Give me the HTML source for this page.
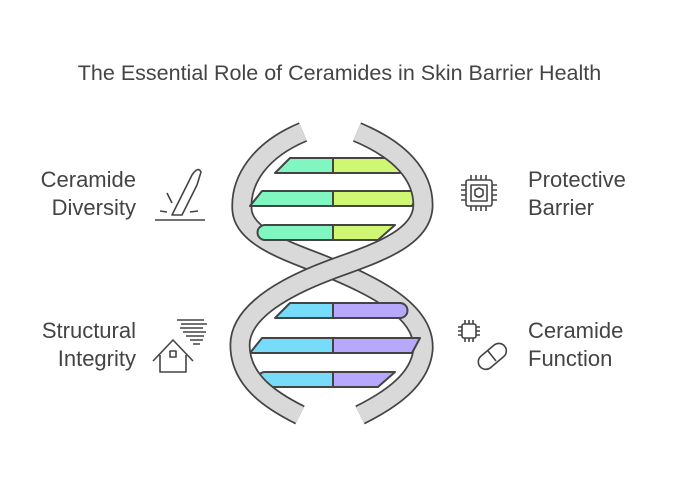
<html><head><style>
body{margin:0;width:679px;height:482px;background:#fff;font-family:"Liberation Sans",sans-serif;color:#444;position:relative;overflow:hidden}
.t{position:absolute;font-size:22px;line-height:28px}
</style></head><body>
<div class="t" style="left:0;width:679px;top:59px;text-align:center;font-size:21.5px">The Essential Role of Ceramides in Skin Barrier Health</div>
<div class="t" style="right:543px;top:166px;text-align:right">Ceramide<br>Diversity</div>
<div class="t" style="right:543px;top:317px;text-align:right">Structural<br>Integrity</div>
<div class="t" style="left:528px;top:166px">Protective<br>Barrier</div>
<div class="t" style="left:528px;top:317px">Ceramide<br>Function</div>
<svg width="679" height="482" style="position:absolute;left:0;top:0" fill="none" stroke-linejoin="round">
<g stroke="#444" stroke-width="1.6">
<path d="M155,220 H205"/><path d="M172,215 L192,175 Q198,166 201,172 L197,185 L182,215 Z"/><path d="M167,193 L172,203 M160,211 L167,212 M190,212 L198,211"/>
<path d="M153,361 L173,340 L193,361 M160,355 V372 H186 V355"/><rect x="170" y="351" width="6" height="6"/>
<path d="M177,320 H204 M181,324 H207 M180,328 H203 M183,332 H206 M186,336 H204 M190,340 H203 M193,344 H200"/>
<rect x="466" y="180" width="26" height="26" rx="2"/><rect x="471" y="185" width="16" height="16"/>
<path d="M471,180 V175 M476,180 V175 M481,180 V175 M486,180 V175 M471,206 V211 M476,206 V211 M481,206 V211 M486,206 V211 M466,185 H461 M466,190 H461 M466,195 H461 M466,200 H461 M492,185 H497 M492,190 H497 M492,195 H497 M492,200 H497"/>
<path d="M475,190 L479,188 L483,190 V195 Q479,199 475,195 Z"/>
<rect x="462" y="324" width="14" height="14" rx="2"/><path d="M465,324 V320 M469,324 V320 M473,324 V320 M465,338 V342 M469,338 V342 M473,338 V342 M462,327 H458 M462,331 H458 M462,335 H458 M476,327 H480 M476,331 H480 M476,335 H480"/>
<rect x="476" y="349" width="32" height="15" rx="7.5" transform="rotate(-40 492 356)"/><path d="M488,351 L496,361" />
</g>
<path d="M303,132 C260,150 240,180 242,210 C244,240 300,255 330,268 C370,285 426,310 423,350 C420,380 390,400 360,415" stroke="#444" stroke-width="21"/>
<path d="M303,132 C260,150 240,180 242,210 C244,240 300,255 330,268 C370,285 426,310 423,350 C420,380 390,400 360,415" stroke="#d9d9d9" stroke-width="17.5"/>
<g stroke="#444" stroke-width="2">
<path d="M290,158 H333 V173 H275 Z" fill="#80f7c0"/><path d="M333,158 H400 A7.5,7.5 0 0 1 400,173 H333 Z" fill="#d0f774"/>
<path d="M262,191 H333 V206 H250 Z" fill="#80f7c0"/><path d="M333,191 H420 L412,206 H333 Z" fill="#d0f774"/>
<path d="M265,225 H333 V240 H265 A7.5,7.5 0 0 1 265,225 Z" fill="#80f7c0"/><path d="M333,225 H395 L378,240 H333 Z" fill="#d0f774"/>
<path d="M290,303 H333 V318 H275 Z" fill="#77dcfa"/><path d="M333,303 H400 A7.5,7.5 0 0 1 400,318 H333 Z" fill="#b8a8fb"/>
<path d="M262,338 H333 V353 H250 Z" fill="#77dcfa"/><path d="M333,338 H420 L412,353 H333 Z" fill="#b8a8fb"/>
<path d="M265,372 H333 V387 H265 A7.5,7.5 0 0 1 265,372 Z" fill="#77dcfa"/><path d="M333,372 H395 L378,387 H333 Z" fill="#b8a8fb"/>
</g>
<path d="M357,132 C400,150 423,175 423,205 C423,240 370,255 330,270 C290,285 240,310 240,345 C240,380 270,400 300,415" stroke="#444" stroke-width="21"/>
<path d="M357,132 C400,150 423,175 423,205 C423,240 370,255 330,270 C290,285 240,310 240,345 C240,380 270,400 300,415" stroke="#d9d9d9" stroke-width="17.5"/>
</svg>
</body></html>
